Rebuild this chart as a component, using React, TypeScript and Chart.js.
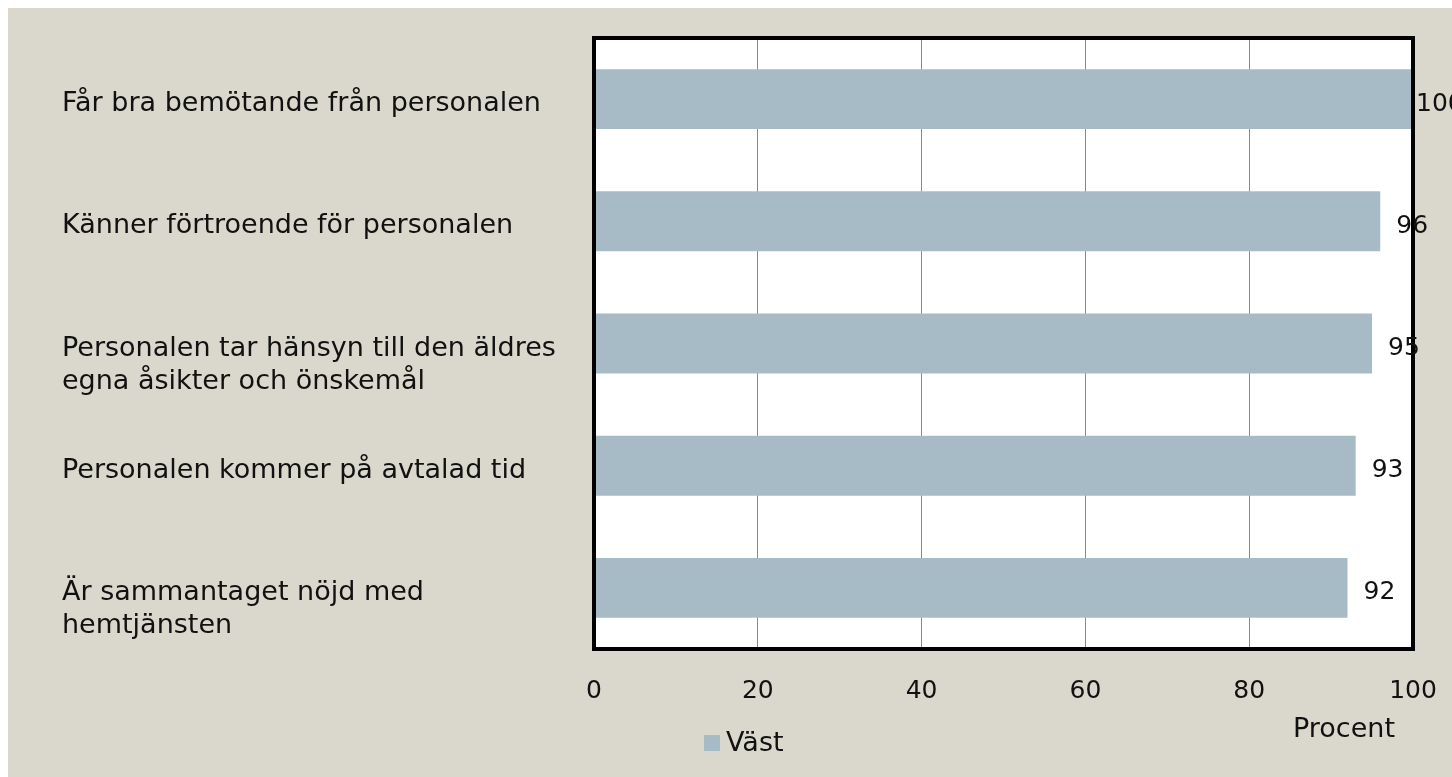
import React, { useEffect, useRef } from "react";
import { Chart, registerables } from "chart.js";

Chart.register(...registerables);

const categoryLines: string[][] = [
  ["Får bra bemötande från personalen"],
  ["Känner förtroende för personalen"],
  ["Personalen tar hänsyn till den äldres", "egna åsikter och önskemål"],
  ["Personalen kommer på avtalad tid"],
  ["Är sammantaget nöjd med", "hemtjänsten"],
];
const categories = categoryLines.map((l) => l.join(" "));
const values = [100, 96, 95, 93, 92];
const xTickValues = [0, 20, 40, 60, 80, 100];
const seriesName = "Väst";
const axisTitle = "Procent";

const BG = "#dad8cc";
const BAR = "#a7bbc7";
const FONT = "DejaVu Sans";
const W = 1444;
const H = 769;

const decoPlugin = {
  id: "deco",
  beforeDraw(chart: any) {
    const { ctx, chartArea: a } = chart;
    ctx.save();
    ctx.fillStyle = BG;
    ctx.fillRect(0, 0, chart.width, chart.height);
    ctx.fillStyle = "#ffffff";
    ctx.fillRect(a.left, a.top, a.right - a.left, a.bottom - a.top);
    ctx.restore();
  },
  afterDraw(chart: any) {
    const { ctx, chartArea: a } = chart;
    const xs = chart.scales.x;
    const ys = chart.scales.y;
    ctx.save();
    // border
    ctx.strokeStyle = "#000";
    ctx.lineWidth = 4;
    ctx.strokeRect(a.left, a.top, a.right - a.left, a.bottom - a.top);

    ctx.fillStyle = "#111";
    ctx.textBaseline = "middle";
    // category labels
    ctx.font = `27px "${FONT}"`;
    ctx.textAlign = "left";
    categoryLines.forEach((lines, i) => {
      const cy = ys.getPixelForValue(i) + 5;
      lines.forEach((ln, j) => ctx.fillText(ln, 54, cy + j * 33));
    });
    // axis title
    ctx.textAlign = "center";
    ctx.fillText(axisTitle, 1336, 722);
    // legend
    ctx.fillStyle = BAR;
    ctx.fillRect(696, 727, 16, 16);
    ctx.fillStyle = "#111";
    ctx.textAlign = "left";
    ctx.fillText(seriesName, 718, 736);
    // x tick labels
    ctx.font = `25px "${FONT}"`;
    ctx.textAlign = "center";
    xTickValues.forEach((v) => ctx.fillText(String(v), xs.getPixelForValue(v), a.bottom + 42));
    // data labels
    ctx.textAlign = "left";
    const meta = chart.getDatasetMeta(0);
    meta.data.forEach((bar: any, i: number) => {
      const x = Math.min(bar.x + 16, a.right + 3);
      ctx.fillText(String(values[i]), x, bar.y + 5);
    });
    ctx.restore();
  },
};

export default function App() {
  const ref = useRef<HTMLCanvasElement>(null);
  useEffect(() => {
    const chart = new Chart(ref.current!, {
      type: "bar",
      data: {
        labels: categories,
        datasets: [
          {
            label: seriesName,
            data: values,
            backgroundColor: BAR,
            barPercentage: 0.49,
            categoryPercentage: 1,
          },
        ],
      },
      options: {
        indexAxis: "y",
        responsive: false,
        animation: false,
        layout: { padding: { left: 586, right: 39, top: 30, bottom: 128 } },
        plugins: { legend: { display: false }, tooltip: { enabled: false } },
        scales: {
          x: {
            min: 0,
            max: 100,
            ticks: { stepSize: 20, display: false },
            grid: { color: "#8a8a8a", lineWidth: 1, drawTicks: false },
            border: { display: false },
          },
          y: {
            display: false,
          },
        },
      },
      plugins: [decoPlugin],
    });
    return () => chart.destroy();
  }, []);
  return (
    <div style={{ position: "absolute", left: 8, top: 8, width: W, height: H }}>
      <canvas ref={ref} width={W} height={H} style={{ display: "block" }} />
    </div>
  );
}
